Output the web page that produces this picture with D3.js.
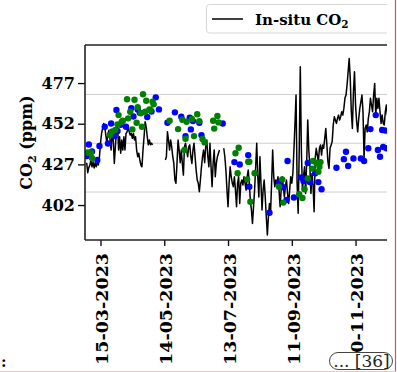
<!DOCTYPE html>
<html>
<head>
<meta charset="utf-8">
<script src="https://cdnjs.cloudflare.com/ajax/libs/d3/7.8.5/d3.min.js"></script>
<style>
  html, body { margin: 0; padding: 0; background: #fff; }
  svg { display: block; }
  text { font-family: "DejaVu Serif", serif; }
</style>
</head>
<body>
<div id="chart"></div>
<script>
// In-situ CO2: one value per day starting at lineStart, null = no data
const lineStart = '2023-03-02';
const insituCO2 = [
  428, 421.9, 425, 426.6, 429.7, 425.5, 428.6, 424.8, 428, 425.5,
  428, 426.6, 431.7, 440, 446, 449.1, 452.2, 450.1, 445, 440,
  446, 448, 442, 435.8, 446, 442, 427.6, 437.8, 448, 452.2,
  435.8, 444, 433.8, 442, 435.8, 444, 435.8, 446, 447, 450.1,
  447, 445, 446, 443, 446, 442, 444, 435.8, 431.7, 433.8,
  429.7, 426.6, 425.5, 435.8, 444, 453.2, 450.1, 444, 439, 442,
  439, 440, 439, null, null, null, null, null, null, null,
  null, null, null, null, 429.7, 431.7, 447, 442, 435.8, 442,
  437.8, 431.7, 427.6, 417.4, 415.4, 428, 442, 435.8, 428, 435.8,
  427.6, 420.4, 437.8, 440, 435.8, 431.7, 437.8, 439, 431.7, 427.6,
  435.8, 440, 431.7, 423.5, 417.4, 415.4, 410.2, 417.4, 425.5, 431.7,
  435.8, 428, 437.8, 442, 431.7, 425.5, 440, 425.5, 413.3, 428,
  435.8, 419.4, 427.6, 431.7, 433.8, 435.8, null, null, null, 436.9,
  431.7, 423.5, 411.2, 401, 415.4, 425.5, 419.4, 415.4, 413.3, 419.4,
  411.2, 401, 415.4, 419.4, 403, 415.4, 417.4, 414.3, 419.4, 415.4,
  411.2, 419.4, 423.5, 415.4, 405, 399, 390.7, 401, 411.2, 425.5,
  440, 419.4, 407, 431.7, 415.4, 399, 411.2, 417.4, 407, 394.8,
  383.6, 394.8, 403, 396.9, 415.4, 435.8, 419.4, 413.3, 417.4, 415.4,
  419.4, 411.2, 401, 411.2, 419.4, 413.3, 407, 413.3, 417.4, 409.1,
  403, 411.2, 419.4, 415.4, 421.4, 435.8, 452.2, 469.6, 415.4, 396.9,
  435.8, 487, 435.8, 411.2, 419.4, 425.5, 409.1, 428, 454.3, 435.8,
  425.5, 409.1, 421.4, 414.3, 397.9, 430.7, 436.9, 432.7, 428.6, 436.9,
  438.9, 432.7, 438.9, 436.9, 443, 449.1, 438.9, 428.6, 424.5, 436.9,
  438.9, 441, 451.2, 456.3, 454.3, 452.2, 455.3, 457.3, 454.3, 456.3,
  459.4, 457.3, 461.4, 467.6, 469.6, 475.8, 483.9, 492.1, 479.9, 459.4,
  449.1, 471.7, 483.9, 463.5, 453.2, 447, 455.3, 461.4, 465.5, 469.6,
  459.4, 430.7, 449.1, 451.2, 447, 455.3, 459.4, 467.6, 463.5, 459.4,
  469.6, 476.8, 457.3, 467.6, 461.4, 467.6, 459.4, 452.2, 457.3, 452.2,
  451.2, 459.4, 463.5, 457.3
];

// blue points
const blueDates = [
  '2023-03-04', '2023-03-07', '2023-03-02', '2023-03-12', '2023-03-14', '2023-03-19',
  '2023-03-22', '2023-03-25', '2023-03-28', '2023-03-30', '2023-03-31', '2023-04-03',
  '2023-04-08', '2023-04-13', '2023-04-15', '2023-04-19', '2023-04-21', '2023-04-28',
  '2023-05-02', '2023-05-06', '2023-05-09', '2023-05-17', '2023-05-24', '2023-05-30',
  '2023-06-03', '2023-06-07', '2023-06-08', '2023-06-10', '2023-06-16', '2023-06-18',
  '2023-07-08', '2023-07-19', '2023-07-24', '2023-08-01', '2023-08-02', '2023-08-21',
  '2023-08-30', '2023-09-03', '2023-09-06', '2023-09-07', '2023-09-13', '2023-09-20',
  '2023-09-22', '2023-09-26', '2023-09-28', '2023-10-03', '2023-10-06', '2023-10-09',
  '2023-10-23', '2023-10-30', '2023-11-01', '2023-11-03', '2023-11-08', '2023-11-15',
  '2023-11-18', '2023-11-22', '2023-11-24', '2023-11-29', '2023-12-01', '2023-12-03',
  '2023-12-06', '2023-12-05', '2023-12-08', '2023-12-09'
];
const blueCO2 = [
  439.2, 434.9, 432.1, 429.7, 438.3, 450.1,
  439.8, 452.1, 444.4, 460.4, 447.5, 451.4,
  450.1, 461.6, 456.4, 460.8, 458.7, 456.1,
  459.5, 468.2, 460.8, 452.6, 459, 456.3,
  444.4, 455.7, 448.5, 453.6, 452.6, 445,
  452.1, 428.4, 426.9, 432.7, 413.3, 397.3,
  415.8, 412.9, 405.1, 429.1, 406.6, 418.9,
  416.8, 427.8, 416.1, 421.5, 416.1, 411.7,
  424.9, 430.2, 434.8, 426, 430.6, 430.6,
  429.1, 436.9, 448.7, 457.3, 435.8, 431.7,
  437.7, 448.1, 447.8, 436.9
];

// green points
const greenDates = [
  '2023-03-03', '2023-03-06', '2023-03-07', '2023-03-24', '2023-03-26', '2023-03-29',
  '2023-03-31', '2023-04-01', '2023-04-04', '2023-04-05', '2023-04-09', '2023-04-10',
  '2023-04-12', '2023-04-14', '2023-04-16', '2023-04-18', '2023-04-19', '2023-04-22',
  '2023-04-23', '2023-04-24', '2023-04-26', '2023-04-27', '2023-04-30', '2023-05-01',
  '2023-05-03', '2023-05-04', '2023-05-19', '2023-05-27', '2023-05-31', '2023-06-04',
  '2023-06-03', '2023-06-02', '2023-06-09', '2023-06-11', '2023-06-14', '2023-06-16',
  '2023-06-19', '2023-06-21', '2023-06-29', '2023-06-30', '2023-07-03', '2023-07-04',
  '2023-07-20', '2023-07-22', '2023-07-23', '2023-07-31', '2023-08-01', '2023-08-02',
  '2023-08-03', '2023-08-07', '2023-08-30', '2023-09-02', '2023-09-03', '2023-09-18',
  '2023-09-21', '2023-09-23', '2023-09-26', '2023-09-30', '2023-10-01', '2023-10-04',
  '2023-10-06', '2023-10-07', '2023-10-08'
];
const greenCO2 = [
  434.3, 434.3, 430.9, 445, 447.2, 448.1,
  451.6, 457.3, 453.2, 453.8, 467, 455.3,
  459.4, 448.5, 466.7, 452.6, 462.1, 458.4,
  450.1, 470.1, 459.4, 466.1, 460.8, 460.4,
  465.5, 463.9, 453.8, 448.7, 454.4, 453.2,
  442.8, 435.8, 454.9, 444.4, 457.8, 453.6,
  442.6, 440.5, 453.8, 449, 456.7, 452.8,
  433.8, 421.5, 437.2, 417.8, 428.6, 428.6,
  404, 421.5, 413.3, 417.8, 403.5, 408.6,
  406.3, 411.7, 418.4, 424.4, 429.1, 428,
  422.5, 425.5, 428.4
];

const yTicks = [402, 427, 452, 477];
const yGrid = [410, 440, 470];
const xTicks = ['2023-03-15', '2023-05-14', '2023-07-13', '2023-09-11', '2023-11-10'];

const width = 397, height = 372;
const plot = {left: 85, right: 387, top: 45, bottom: 240};

const parse = d3.utcParse('%Y-%m-%d');
const fmt = d3.utcFormat('%d-%m-%Y');
const t0 = parse(lineStart);

const lineData = insituCO2.map((v, i) => ({date: d3.utcDay.offset(t0, i), value: v}));
const blue = blueDates.map((d, i) => ({date: parse(d), value: blueCO2[i]}));
const green = greenDates.map((d, i) => ({date: parse(d), value: greenCO2[i]}));

const x = d3.scaleUtc()
  .domain([new Date(Date.UTC(2023, 1, 28, 10)), new Date(Date.UTC(2023, 11, 9, 14))])
  .range([plot.left, plot.right]);
const y = d3.scaleLinear()
  .domain([380.5, 500.4])
  .range([plot.bottom, plot.top]);

const svg = d3.select('#chart').append('svg')
  .attr('width', width)
  .attr('height', height);

svg.append('rect').attr('width', width).attr('height', height).attr('fill', '#fff');

const defs = svg.append('defs');
defs.append('clipPath').attr('id', 'plot-clip')
  .append('rect')
  .attr('x', plot.left).attr('y', plot.top)
  .attr('width', plot.right - plot.left).attr('height', plot.bottom - plot.top);
defs.append('clipPath').attr('id', 'fig-clip')
  .append('rect')
  .attr('x', 0).attr('y', 0).attr('width', 387).attr('height', height);

const fig = svg.append('g').attr('clip-path', 'url(#fig-clip)');

// grid
fig.append('g')
  .selectAll('line')
  .data(yGrid)
  .join('line')
  .attr('x1', plot.left).attr('x2', plot.right)
  .attr('y1', d => y(d)).attr('y2', d => y(d))
  .attr('stroke', '#cfcfcf')
  .attr('stroke-width', 1);

const data = fig.append('g').attr('clip-path', 'url(#plot-clip)');

const line = d3.line()
  .defined(d => d.value != null)
  .x(d => x(d.date))
  .y(d => y(d.value));

data.append('path')
  .datum(lineData)
  .attr('d', line)
  .attr('fill', 'none')
  .attr('stroke', '#000')
  .attr('stroke-width', 1.5)
  .attr('stroke-linejoin', 'round');

data.append('g')
  .selectAll('circle')
  .data(blue)
  .join('circle')
  .attr('cx', d => x(d.date))
  .attr('cy', d => y(d.value))
  .attr('r', 3.2)
  .attr('fill', '#0000ff');

data.append('g')
  .selectAll('circle')
  .data(green)
  .join('circle')
  .attr('cx', d => x(d.date))
  .attr('cy', d => y(d.value))
  .attr('r', 3.2)
  .attr('fill', '#008000');

// axes
const yAxis = d3.axisLeft(y)
  .tickValues(yTicks)
  .tickSize(7)
  .tickPadding(3)
  .tickSizeOuter(0);
const gY = fig.append('g')
  .attr('transform', `translate(${plot.left},0)`)
  .call(yAxis);
gY.select('.domain').remove();
gY.selectAll('line').attr('stroke', '#000').attr('stroke-width', 1.3);
gY.selectAll('text')
  .attr('font-family', '"DejaVu Serif", serif')
  .attr('font-weight', 'bold')
  .attr('font-size', 16)
  .attr('fill', '#000');

const xAxis = d3.axisBottom(x)
  .tickValues(xTicks.map(parse))
  .tickFormat(fmt)
  .tickSize(6)
  .tickSizeOuter(0);
const gX = fig.append('g')
  .attr('transform', `translate(0,${plot.bottom})`)
  .call(xAxis);
gX.select('.domain').remove();
gX.selectAll('line').attr('stroke', '#000').attr('stroke-width', 1.3);
gX.selectAll('text')
  .attr('font-family', '"DejaVu Serif", serif')
  .attr('font-weight', 'bold')
  .attr('font-size', 17.5)
  .attr('fill', '#000')
  .attr('text-anchor', 'end')
  .attr('transform', 'translate(1,13) rotate(-90)')
  .attr('x', 0)
  .attr('y', 0)
  .attr('dy', '0.36em');

// spines
const spines = fig.append('g')
  .attr('stroke', '#222')
  .attr('stroke-width', 1.6)
  .attr('fill', 'none');
spines.append('line').attr('x1', plot.left).attr('x2', plot.left).attr('y1', plot.top).attr('y2', plot.bottom);
spines.append('line').attr('x1', plot.left).attr('x2', plot.right + 2).attr('y1', plot.bottom).attr('y2', plot.bottom);
spines.append('line').attr('x1', plot.left).attr('x2', plot.right + 2).attr('y1', plot.top).attr('y2', plot.top);

// y label
const yLabel = fig.append('text')
  .attr('transform', `translate(32,${(plot.top + plot.bottom) / 2}) rotate(-90)`)
  .attr('text-anchor', 'middle')
  .attr('font-weight', 'bold')
  .attr('font-size', 16)
  .attr('fill', '#000');
yLabel.append('tspan').text('CO');
yLabel.append('tspan').text('2').attr('font-size', 11).attr('dy', 4);
yLabel.append('tspan').text(' (ppm)').attr('dy', -4);

// legend
const legend = fig.append('g');
legend.append('rect')
  .attr('x', 206.5).attr('y', 4.5)
  .attr('width', 220).attr('height', 28.5)
  .attr('rx', 3)
  .attr('fill', '#fff')
  .attr('stroke', '#d6d6d6');
legend.append('line')
  .attr('x1', 212).attr('x2', 243)
  .attr('y1', 19).attr('y2', 19)
  .attr('stroke', '#000').attr('stroke-width', 1.5);
const legText = legend.append('text')
  .attr('x', 255).attr('y', 24.5)
  .attr('font-weight', 'bold')
  .attr('font-size', 15)
  .attr('fill', '#000');
legText.append('tspan').text('In-situ CO');
legText.append('tspan').text('2').attr('font-size', 10.5).attr('dy', 3.5);

// page frame bits
svg.append('line')
  .attr('x1', 395.5).attr('x2', 395.5).attr('y1', 0).attr('y2', 371)
  .attr('stroke', '#d9534f').attr('stroke-width', 1.2);
svg.append('line')
  .attr('x1', 0).attr('x2', 396).attr('y1', 371.5).attr('y2', 371.5)
  .attr('stroke', '#f2c4c4').attr('stroke-width', 1);

svg.append('text')
  .attr('x', 1).attr('y', 367)
  .attr('font-family', '"DejaVu Sans", sans-serif')
  .attr('font-weight', 'bold')
  .attr('font-size', 15)
  .attr('fill', '#000')
  .text(':');

const badge = svg.append('g');
badge.append('rect')
  .attr('x', 329.5).attr('y', 352.5)
  .attr('width', 63).attr('height', 17)
  .attr('rx', 8.5)
  .attr('fill', '#fff')
  .attr('stroke', '#444');
badge.append('text')
  .attr('x', 361.5).attr('y', 367)
  .attr('text-anchor', 'middle')
  .attr('font-family', '"Liberation Serif", serif')
  .attr('font-size', 17)
  .attr('fill', '#222')
  .text('... [36]');
</script>
</body>
</html>
